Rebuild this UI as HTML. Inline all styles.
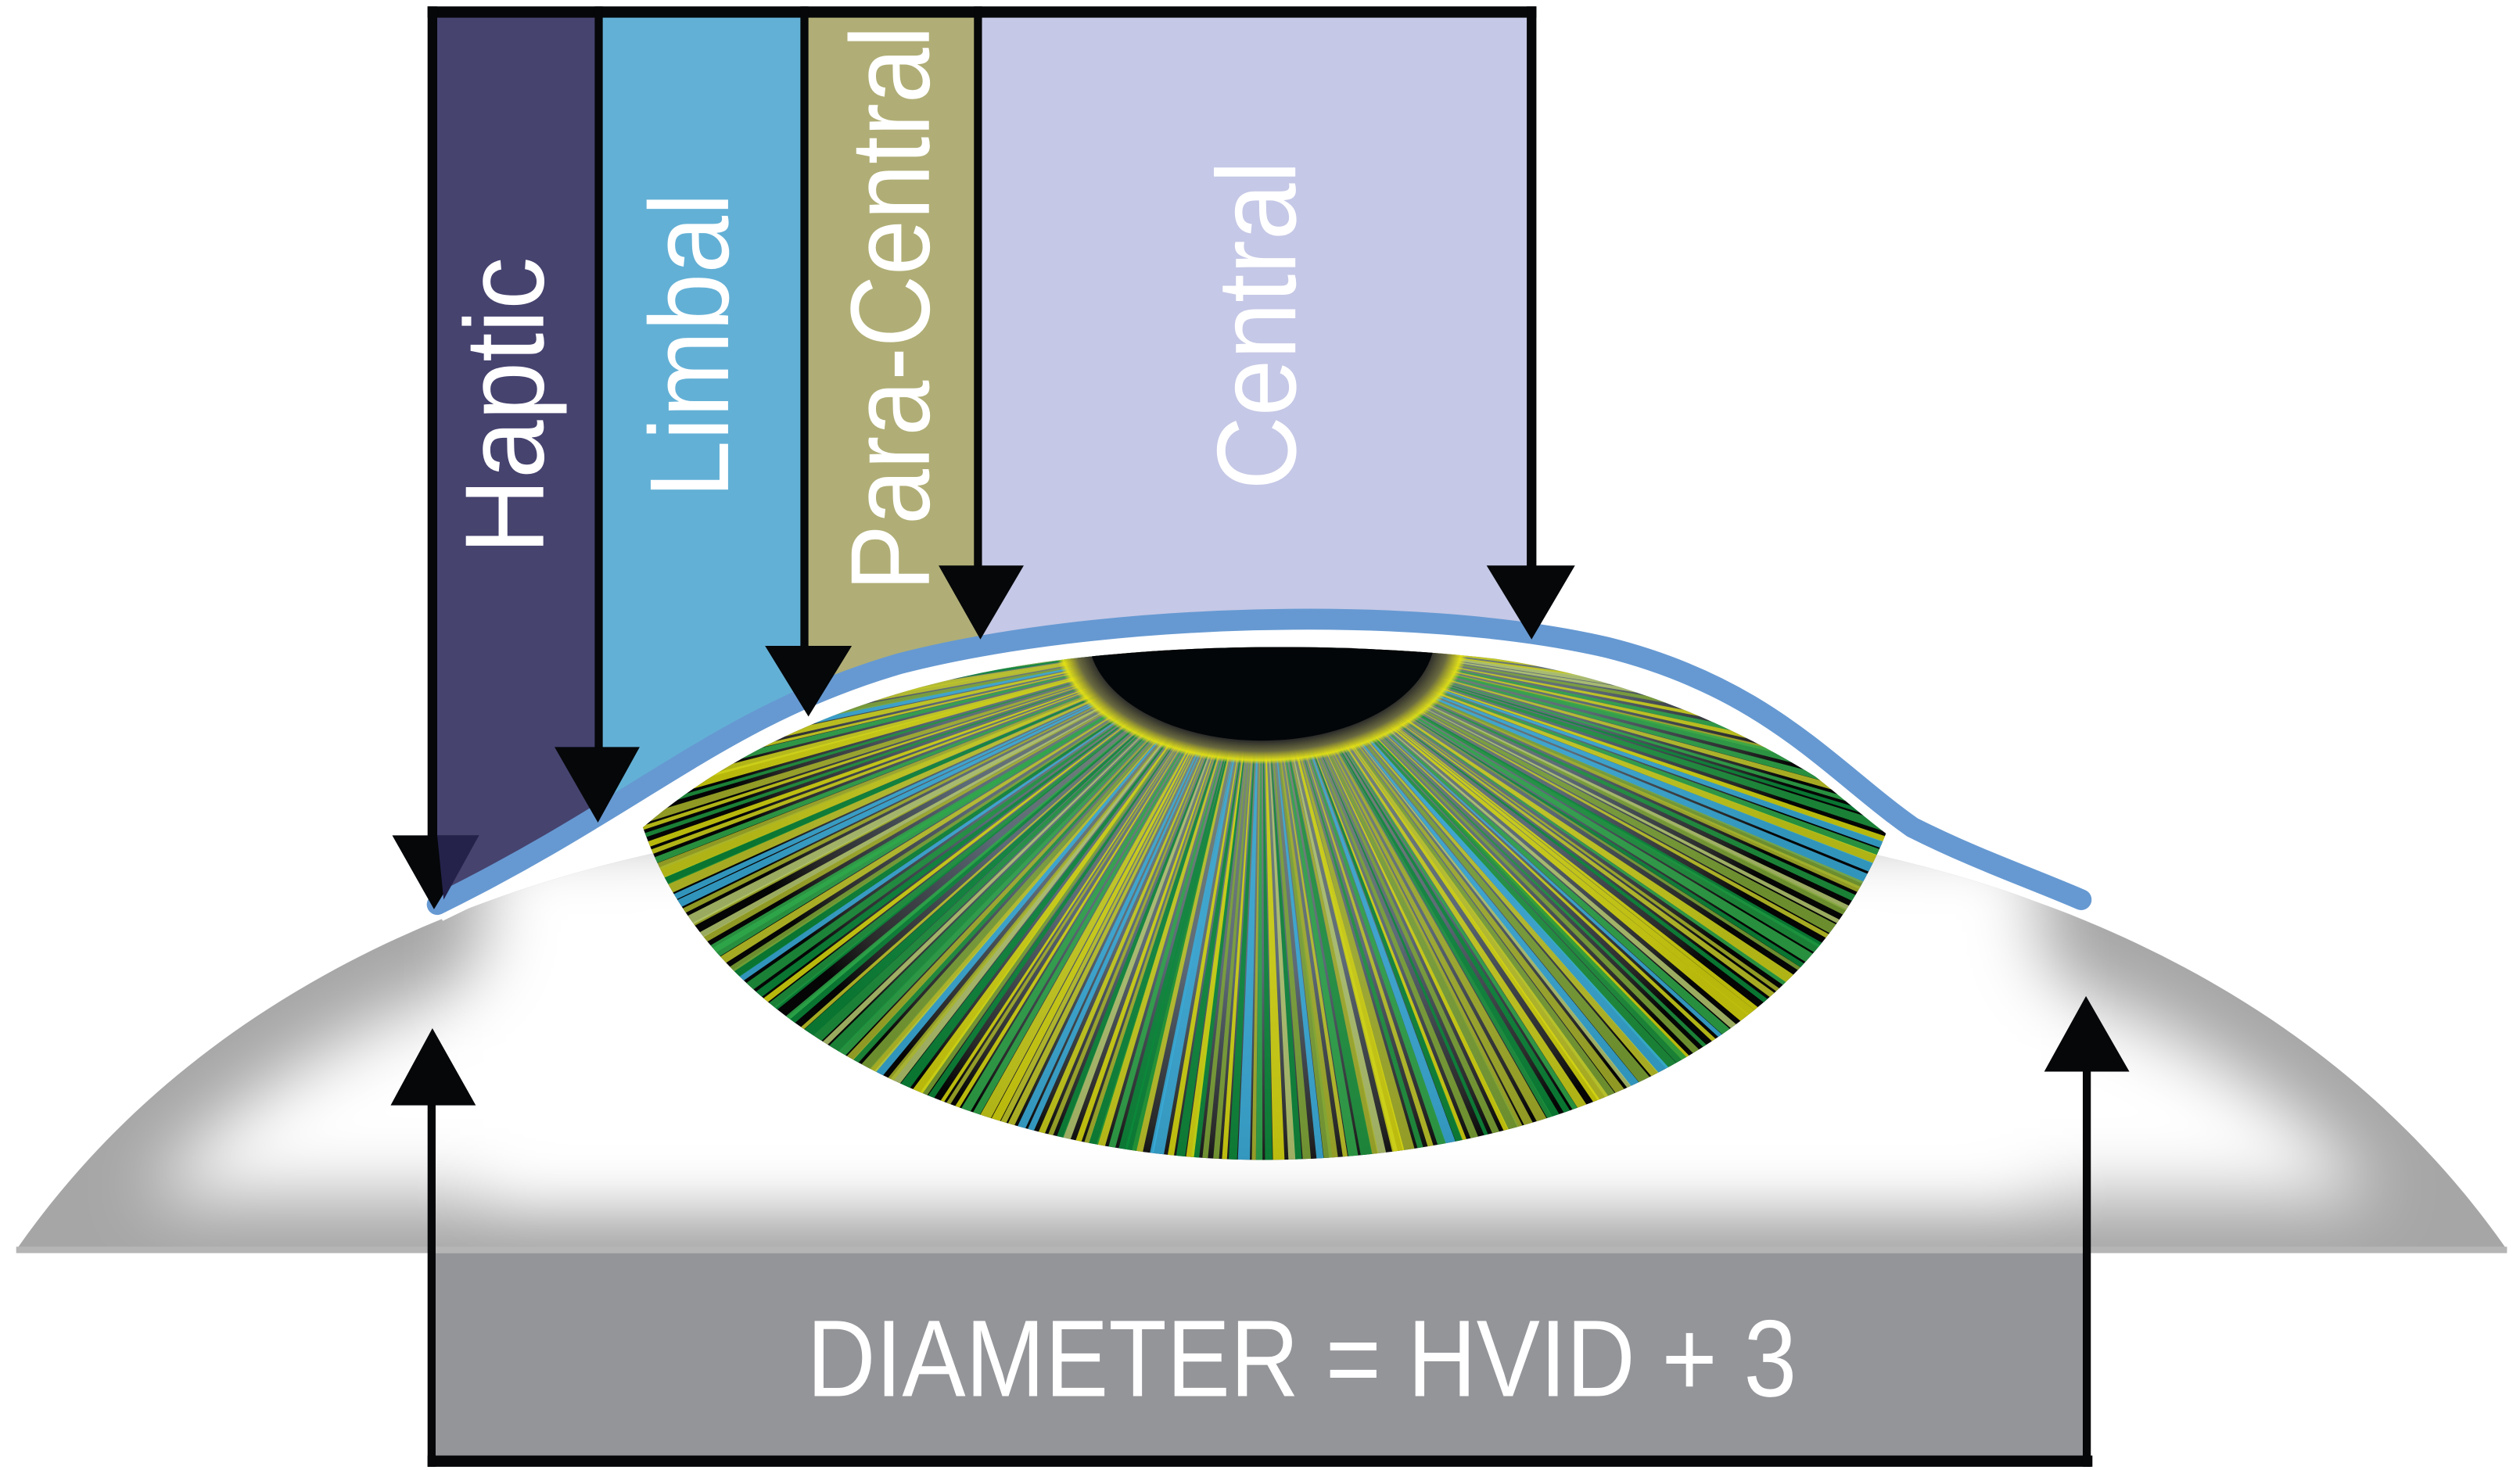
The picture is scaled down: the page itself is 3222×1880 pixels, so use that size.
<!DOCTYPE html>
<html><head><meta charset="utf-8"><style>
html,body{margin:0;padding:0;background:#fff;}
svg{display:block;}
text{font-family:"Liberation Sans",sans-serif;fill:#fff;}
</style></head><body>
<svg id="s" width="3222" height="1880" viewBox="0 0 1568 915" xmlns="http://www.w3.org/2000/svg">
<defs>
<filter id="bl" x="-20%" y="-20%" width="140%" height="140%"><feGaussianBlur stdDeviation="22"/></filter>
<radialGradient id="irisbg" cx="785" cy="400" r="340" gradientUnits="userSpaceOnUse">
<stop offset="0" stop-color="#8a9a7a"/><stop offset="0.6" stop-color="#5d6a78"/><stop offset="0.9" stop-color="#2a2a2a"/><stop offset="1" stop-color="#050505"/>
</radialGradient>
<radialGradient id="pr" cx="785" cy="395" r="130" gradientUnits="userSpaceOnUse" gradientTransform="translate(785,395) scale(1,0.62) translate(-785,-395)">
<stop offset="0.82" stop-color="#2a2a2a"/><stop offset="0.9" stop-color="#6a6a40"/><stop offset="0.97" stop-color="#e8e410" stop-opacity="0.9"/><stop offset="1" stop-color="#e8e410" stop-opacity="0"/>
</radialGradient>
<clipPath id="ic"><path d="M400,515 C470,455 560,425 650,412 C740,400 840,400 930,410 C1030,425 1110,465 1175,515 C1120,660 950,722 785,722 C640,722 450,660 400,515 Z"/></clipPath>
<clipPath id="sc"><path d="M10,778 C120,620 300,540 500,515 C650,500 920,500 1070,515 C1270,540 1450,620 1560,778 Z"/></clipPath>
</defs>
<!-- columns -->
<rect x="268" y="8" width="106" height="600" fill="#46436f"/>
<rect x="374" y="8" width="127" height="600" fill="#63b0d6"/>
<rect x="501" y="8" width="108" height="600" fill="#b0ae76"/>
<rect x="609" y="8" width="345" height="600" fill="#c5c8e6"/>
<!-- text -->
<text transform="translate(338,345) rotate(-90)" font-size="70" textLength="185" lengthAdjust="spacingAndGlyphs">Haptic</text>
<text transform="translate(453,310) rotate(-90)" font-size="70" textLength="190" lengthAdjust="spacingAndGlyphs">Limbal</text>
<text transform="translate(578,368) rotate(-90)" font-size="70" textLength="352" lengthAdjust="spacingAndGlyphs">Para-Central</text>
<text transform="translate(806,305) rotate(-90)" font-size="70" textLength="205" lengthAdjust="spacingAndGlyphs">Central</text>
<!-- white below cornea -->
<path d="M260,568 C400,500 450,445 560,413 C680,382 880,375 1000,403 C1100,428 1140,480 1190,515 C1230,535 1260,545 1300,563 L1568,563 L1568,915 L0,915 L0,568 Z" fill="#fff"/>
<!-- sclera -->
<g clip-path="url(#sc)">
<rect x="0" y="480" width="1568" height="310" fill="#a6a6a6"/>
<path d="M90,745 C180,640 330,580 520,560 C660,548 910,548 1050,560 C1240,580 1390,640 1480,745 Z" fill="#fff" filter="url(#bl)"/>
<rect x="300" y="520" width="970" height="220" fill="#fff" filter="url(#bl)"/>
</g>
<rect x="10" y="776" width="1550" height="4" fill="#b5b5b5"/>
<!-- iris -->
<g clip-path="url(#ic)">
<rect x="380" y="380" width="820" height="360" fill="url(#irisbg)"/>
<g id="rays"></g>
<ellipse cx="785" cy="395" rx="130" ry="81" fill="url(#pr)"/>
<ellipse cx="785" cy="395" rx="108" ry="66" fill="#030608"/>
</g>
<!-- cornea -->
<path d="M272,566 C400,505 450,452 560,420 C680,390 880,383 1000,410 C1100,434 1140,486 1190,521 C1230,540 1260,550 1295,563" fill="none" stroke="#fff" stroke-width="16"/>
<path d="M272,563 C400,500 450,445 560,413 C680,382 880,375 1000,403 C1100,428 1140,480 1190,515 C1230,535 1260,545 1295,560" fill="none" stroke="#6699d2" stroke-width="13" stroke-linecap="round"/>
<!-- top lines and arrows -->
<g fill="#050709" stroke="none">
<rect x="266" y="4" width="690" height="7"/>
<rect x="266" y="4" width="6" height="525"/>
<rect x="370" y="4" width="5" height="470"/>
<rect x="498" y="4" width="5" height="405"/>
<rect x="606" y="4" width="5" height="355"/>
<rect x="950" y="4" width="6" height="355"/>
<path d="M244,520 L298,520 L270,566 Z"/>
<path d="M345,465 L398,465 L372,512 Z"/>
<path d="M476,402 L530,402 L503,446 Z"/>
<path d="M584,352 L637,352 L610,398 Z"/>
<path d="M925,352 L980,352 L953,398 Z"/>
</g>
<path d="M272,520 L298,520 L276,560 Z" fill="#24224a"/>
<!-- gray box -->
<rect x="268" y="780" width="1032" height="130" fill="#949599"/>
<text x="502" y="869" font-size="68" textLength="616" lengthAdjust="spacingAndGlyphs">DIAMETER = HVID + 3</text>
<g fill="#050709">
<rect x="266" y="906" width="1036" height="7"/>
<rect x="266" y="686" width="5" height="227"/>
<rect x="1296" y="664" width="5" height="249"/>
<path d="M243,688 L296,688 L269,640 Z"/>
<path d="M1272,667 L1325,667 L1298,620 Z"/>
</g>
</svg>
<script>
(function(){
var g=document.getElementById('rays');var ns='http://www.w3.org/2000/svg';
var cols=['#0b8a3a','#cfd21a','#2fa84a','#a8b42a','#d8d80e','#7fa636','#1f9640','#c2c828','#3aaedc','#b5c870'];
var cx=785,cy=395,R=420;var seed=7;function rnd(){seed=(seed*9301+49297)%233280;return seed/233280;}
for(var i=0;i<200;i++){var a=Math.PI*(0.02+0.96*(i/200))+ (rnd()-0.5)*0.01;
var w=(0.003+rnd()*0.007);var c=cols[Math.floor(rnd()*cols.length)];
var x1=cx+Math.cos(a-w)*R,y1=cy+Math.sin(a-w)*R*0.85,x2=cx+Math.cos(a+w)*R,y2=cy+Math.sin(a+w)*R*0.85;
var p=document.createElementNS(ns,'path');
p.setAttribute('d','M'+(cx+Math.cos(a)*60)+','+(cy+Math.sin(a)*40)+' L'+x1+','+y1+' L'+x2+','+y2+' Z');
p.setAttribute('fill',c);p.setAttribute('opacity',0.85);g.appendChild(p);}
})();
</script>
</body></html>
